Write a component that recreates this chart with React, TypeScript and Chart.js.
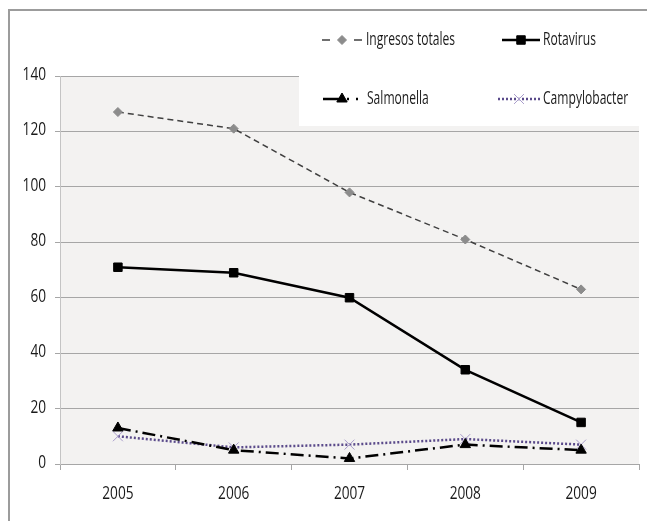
import React, { useEffect, useRef } from "react";
import { Chart, registerables } from "chart.js";
import { drawPoint } from "chart.js/helpers";

Chart.register(...registerables);

const categories = ["2005", "2006", "2007", "2008", "2009"];
const ingresosTotales = [127, 121, 98, 81, 63];
const rotavirus = [71, 69, 60, 34, 15];
const salmonella = [13, 5, 2, 7, 5];
const campylobacter = [10, 6, 7, 9, 7];
const yTicks = [0, 20, 40, 60, 80, 100, 120, 140];

const FONT = '"Open Sans", "Noto Sans", sans-serif';
const TEXT_COLOR = "#1a1a1a";

const legendItems = [
  { ds: 0, x0: 322, x1: 362, tx: 366, y: 40, dash: [8, 24] },
  { ds: 1, x0: 502, x1: 540, tx: 543, y: 40, dash: [] },
  { ds: 2, x0: 323, x1: 362, tx: 367, y: 99, dash: [19, 5, 2, 7, 2, 10] },
  { ds: 3, x0: 498, x1: 540, tx: 543, y: 99, dash: [2, 2] },
];

function squeezeText(ctx: any, text: string, x: number, y: number, align: string, sx: number, size: number) {
  ctx.save();
  ctx.translate(x, y);
  ctx.scale(sx, 1);
  ctx.font = size + "px " + FONT;
  ctx.fillStyle = TEXT_COLOR;
  ctx.textAlign = align;
  ctx.textBaseline = "middle";
  ctx.fillText(text, 0, 0);
  ctx.restore();
}

const framePlugin = {
  id: "frame",
  beforeDraw(chart: any) {
    const { ctx, chartArea } = chart;
    ctx.save();
    ctx.fillStyle = "#ffffff";
    ctx.fillRect(0, 0, chart.width, chart.height);
    ctx.fillStyle = "#f3f2f1";
    ctx.fillRect(chartArea.left, chartArea.top, chartArea.right - chartArea.left, chartArea.bottom - chartArea.top);
    ctx.fillStyle = "#9c9c9c";
    ctx.fillRect(8, 9, chart.width - 8, 2);
    ctx.fillRect(8, 9, 2, chart.height - 9);
    ctx.restore();
  },
  beforeDatasetsDraw(chart: any) {
    const { ctx } = chart;
    ctx.save();
    ctx.fillStyle = "#ffffff";
    ctx.fillRect(299, 11, chart.width - 299, 126 - 11);
    ctx.restore();
  },
  afterDraw(chart: any) {
    const { ctx } = chart;
    const xs = chart.scales.x;
    const ys = chart.scales.y;
    categories.forEach((c, i) => {
      squeezeText(ctx, c, xs.getPixelForValue(i), 494, "center", 0.78, 17.5);
    });
    yTicks.forEach((v) => {
      squeezeText(ctx, String(v), 46, ys.getPixelForValue(v) - 1, "right", 0.78, 17.5);
    });
    ctx.save();
    legendItems.forEach((it) => {
      const ds = chart.data.datasets[it.ds];
      ctx.strokeStyle = ds.borderColor;
      ctx.lineWidth = ds.borderWidth;
      ctx.setLineDash(it.dash);
      ctx.beginPath();
      ctx.moveTo(it.x0, it.y);
      ctx.lineTo(it.x1, it.y);
      ctx.stroke();
      ctx.setLineDash([]);
      ctx.fillStyle = ds.pointBackgroundColor;
      ctx.strokeStyle = ds.pointBorderColor;
      ctx.lineWidth = ds.pointBorderWidth;
      const cx = it.ds === 2 ? 342 : (it.x0 + it.x1) / 2;
      drawPoint(ctx, { pointStyle: ds.pointStyle, radius: ds.pointRadius, rotation: 0, borderWidth: ds.pointBorderWidth } as any, cx, it.y);
      squeezeText(ctx, ds.label, it.tx, it.y, "left", 0.69, 17.5);
    });
    ctx.restore();
  },
};

export default function App() {
  const ref = useRef<HTMLCanvasElement>(null);
  useEffect(() => {
    const chart = new Chart(ref.current!, {
      type: "line",
      data: {
        labels: categories,
        datasets: [
          {
            label: "Ingresos totales",
            data: ingresosTotales,
            borderColor: "#404040",
            borderWidth: 1.5,
            borderDash: [6, 4],
            pointStyle: "rectRot",
            pointRadius: 4.5,
            pointBackgroundColor: "#8c8c8c",
            pointBorderColor: "#8c8c8c",
            pointBorderWidth: 1,
            tension: 0,
          },
          {
            label: "Rotavirus",
            data: rotavirus,
            borderColor: "#000000",
            borderWidth: 2.5,
            pointStyle: "rect",
            pointRadius: 6,
            pointBackgroundColor: "#000000",
            pointBorderColor: "#000000",
            pointBorderWidth: 1,
            tension: 0,
          },
          {
            label: "Salmonella",
            data: salmonella,
            borderColor: "#000000",
            borderWidth: 2.5,
            borderDash: [13, 5, 2, 5],
            pointStyle: "triangle",
            pointRadius: 6,
            pointBackgroundColor: "#000000",
            pointBorderColor: "#000000",
            pointBorderWidth: 1,
            tension: 0,
          },
          {
            label: "Campylobacter",
            data: campylobacter,
            borderColor: "#5a4a8a",
            borderWidth: 2.5,
            borderDash: [2, 2],
            pointStyle: "crossRot",
            pointRadius: 7,
            pointBackgroundColor: "#a99dcb",
            pointBorderColor: "#a99dcb",
            pointBorderWidth: 1,
            tension: 0,
          },
        ],
      },
      options: {
        animation: false,
        responsive: false,
        events: [],
        layout: { padding: { left: 0, top: 76, right: 7, bottom: 0 } },
        plugins: { legend: { display: false }, tooltip: { enabled: false } },
        scales: {
          x: {
            offset: true,
            grid: { offset: true, drawOnChartArea: false, drawTicks: true, tickLength: 6, color: "#a6a6a6" },
            border: { color: "#a6a6a6", width: 1 },
            ticks: { color: "rgba(0,0,0,0)", font: { family: FONT, size: 13 }, padding: 12 },
            afterFit(scale: any) { scale.height = 57; },
          },
          y: {
            min: 0,
            max: 140,
            afterBuildTicks(scale: any) { scale.ticks = yTicks.map((v) => ({ value: v })); },
            grid: { color: "#a6a6a6", tickLength: 5, drawTicks: true },
            border: { color: "#c4c4c4", width: 1 },
            ticks: { color: "rgba(0,0,0,0)", font: { family: FONT, size: 13 }, padding: 9 },
            afterFit(scale: any) { scale.width = 60; },
          },
        },
      },
      plugins: [framePlugin],
    });
    return () => chart.destroy();
  }, []);
  return (
    <div style={{ position: "fixed", left: 0, top: 0, width: 647, height: 521 }}>
      <canvas ref={ref} width={647} height={521} style={{ display: "block" }} />
    </div>
  );
}
